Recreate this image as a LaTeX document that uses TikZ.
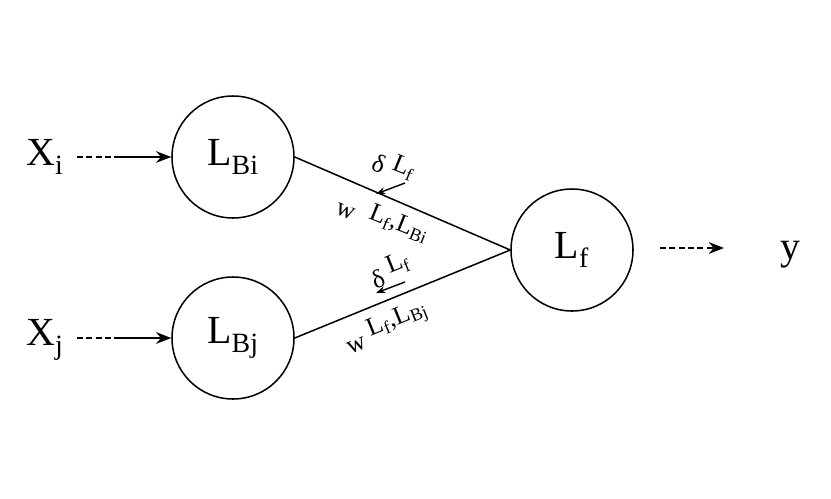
\documentclass[tikz,border=0pt]{standalone}
\usepackage{fontspec}
\setmainfont{Liberation Serif}
\usetikzlibrary{arrows.meta}
\begin{document}
\begin{tikzpicture}[x=0.03cm,y=-0.03cm,
  neuron/.style={draw,circle,line width=1.3pt,minimum size=3.66cm,inner sep=0pt,font=\fontsize{34}{36}\selectfont},
  big/.style={font=\fontsize{34}{36}\selectfont,inner sep=0pt},
  small/.style={font=\fontsize{22}{24}\selectfont,inner sep=0pt},
  dsh/.style={dash pattern=on 5pt off 3pt,line width=1.3pt},
  arr/.style={-{Stealth[length=13pt,width=10pt]},line width=1.3pt},
  sarr/.style={-{Stealth[length=8pt,width=6pt]},line width=1.2pt}]
\useasboundingbox (0,0) rectangle (831,499);
\node[neuron] (bi) at (233,157) {L\textsubscript{Bi}};
\node[neuron] (bj) at (233,338) {L\textsubscript{Bj}};
\node[neuron] (f) at (572,250) {L\textsubscript{f}};
\node[big] (xi) at (45,157) {X\textsubscript{i}};
\node[big] (xj) at (45,340) {X\textsubscript{j}};
\node[big] (y) at (790,255) {y};
\coordinate (ai) at (118,157); \coordinate (aj) at (118,338);
\coordinate (o1) at (660,248); \coordinate (o2) at (724,248);
\draw[dsh] (77,157) -- (ai);
\draw[arr] (ai) -- (bi.west);
\draw[dsh] (77,338) -- (aj);
\draw[arr] (aj) -- (bj.west);
\draw[arr,dsh] (o1) -- (o2);
\draw[line width=1.3pt] (bi.east) -- (f.west);
\draw[line width=1.3pt] (bj.east) -- (f.west);
\coordinate (t1) at (405,183); \coordinate (h1) at (376,194);
\draw[sarr] (t1) -- (h1);
\coordinate (t2) at (405,282); \coordinate (h2) at (376,293);
\draw[sarr] (t2) -- (h2);
\node[small,rotate=-22] (d1) at (394,166) {δ\;\raisebox{0.7ex}{L\textsubscript{f}}};
\node[small,rotate=-22] (w1) at (383,220) {w\;\;\raisebox{0.7ex}{L\textsubscript{f},L\textsubscript{Bi}}};
\node[small,rotate=22] (d2) at (390,270) {δ\;\raisebox{0.8ex}{L\textsubscript{f}}};
\node[small,rotate=22] (w2) at (386,326) {w\;\raisebox{0.8ex}{L\textsubscript{f},L\textsubscript{Bj}}};
\end{tikzpicture}
\end{document}
